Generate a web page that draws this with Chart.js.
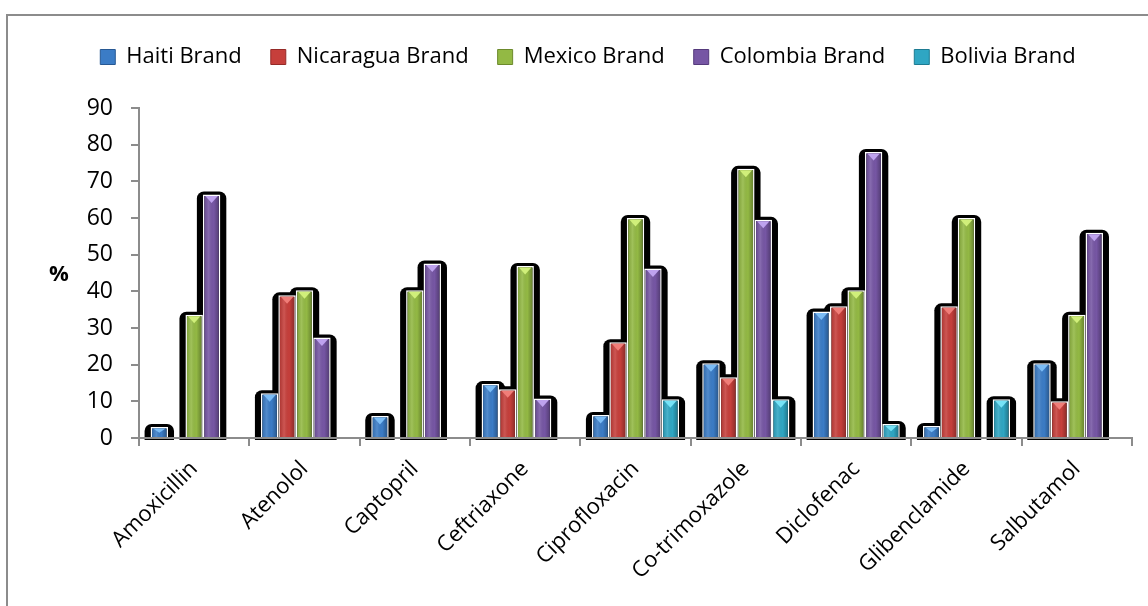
<!DOCTYPE html>
<html>
<head>
<meta charset="utf-8">
<script src="https://cdn.jsdelivr.net/npm/chart.js@4.4.1/dist/chart.umd.min.js"></script>
<style>
  html, body { margin: 0; padding: 0; background: #fff; }
  #marco { width: 1148px; height: 606px; }
</style>
</head>
<body>
<div id="marco"><canvas id="grafico"></canvas></div>
<script>
const medicamentos = ['Amoxicillin', 'Atenolol', 'Captopril', 'Ceftriaxone', 'Ciprofloxacin', 'Co-trimoxazole', 'Diclofenac', 'Glibenclamide', 'Salbutamol']
const marcas = ['Haiti Brand', 'Nicaragua Brand', 'Mexico Brand', 'Colombia Brand', 'Bolivia Brand']

const haiti = [3, 12.2, 6, 14.7, 6.3, 20.4, 34.5, 3.3, 20.4]
const nicaragua = [0, 38.9, 0, 13.3, 26.1, 16.6, 35.9, 35.9, 10]
const mexico = [33.6, 40.3, 40.3, 46.9, 60, 73.4, 40.3, 60, 33.6]
const colombia = [66.4, 27.4, 47.6, 10.8, 46.2, 59.5, 78, 0, 56]
const bolivia = [0, 0, 0, 0, 10.6, 10.6, 3.8, 10.6, 0]

const ticksY = [0, 10, 20, 30, 40, 50, 60, 70, 80, 90]

const colores = ['#3b7cc6', '#c63f3b', '#93b944', '#7656a4', '#2fa6c3']
const bordes = ['#275893', '#952a27', '#6c8a2c', '#553a7c', '#1d7b92']
const claros = ['#7bbcf5', '#f07d78', '#d0ef7a', '#bea2ee', '#76e3f7']

const gris = '#8c8c8c'
const fuente = "'Open Sans', 'Noto Sans', sans-serif"

const series = [haiti, nicaragua, mexico, colombia, bolivia]

// marco gris y fondo blanco
const fondo = {
  id: 'fondo',
  beforeDraw(chart) {
    const ctx = chart.ctx
    ctx.save()
    ctx.fillStyle = '#fff'
    ctx.fillRect(0, 0, chart.width, chart.height)
    ctx.strokeStyle = gris
    ctx.lineWidth = 2
    ctx.strokeRect(7, 15, chart.width + 20, chart.height + 20)
    ctx.restore()
  }
}

// mas espacio debajo de la leyenda
const espacioLeyenda = {
  id: 'espacioLeyenda',
  beforeLayout(chart) {
    const lg = chart.legend
    if (lg && !lg._ajustado) {
      const fit = lg.fit
      lg.fit = function () { fit.call(this); this.height += 30 }
      lg._ajustado = true
    }
  }
}

// sombra negra detras de las barras
const sombras = {
  id: 'sombras',
  beforeDatasetsDraw(chart) {
    const ctx = chart.ctx
    ctx.save()
    ctx.fillStyle = '#000'
    chart.data.datasets.forEach((ds, i) => {
      const meta = chart.getDatasetMeta(i)
      meta.data.forEach((bar, j) => {
        if (!ds.data[j]) return
        const p = bar.getProps(['x', 'y', 'base', 'width'], true)
        ctx.beginPath()
        ctx.roundRect(p.x - p.width / 2 - 6, p.y - 3, p.width + 12, p.base - p.y + 6, [7, 7, 0, 0])
        ctx.fill()
      })
    })
    ctx.restore()
  }
}

// relieve: degradado y triangulo claro arriba
const relieve = {
  id: 'relieve',
  afterDatasetsDraw(chart) {
    const ctx = chart.ctx
    ctx.save()
    chart.data.datasets.forEach((ds, i) => {
      const meta = chart.getDatasetMeta(i)
      meta.data.forEach((bar, j) => {
        if (!ds.data[j]) return
        const p = bar.getProps(['x', 'y', 'base', 'width'], true)
        const l = p.x - p.width / 2 + 1.5
        const r = p.x + p.width / 2 - 1.5
        const t = p.y + 1.5
        const g = ctx.createLinearGradient(l, 0, r, 0)
        g.addColorStop(0, 'rgba(0,0,0,0.12)')
        g.addColorStop(0.3, 'rgba(255,255,255,0.12)')
        g.addColorStop(0.65, 'rgba(0,0,0,0)')
        g.addColorStop(1, 'rgba(0,0,0,0.28)')
        ctx.fillStyle = g
        ctx.fillRect(l, t, r - l, p.base - t)
        const h = Math.min(7, (p.base - t) / 2)
        ctx.fillStyle = claros[i]
        ctx.beginPath()
        ctx.moveTo(l + 1, t)
        ctx.lineTo(r - 1, t)
        ctx.lineTo(p.x, t + h)
        ctx.closePath()
        ctx.fill()
      })
    })
    // la linea del eje por encima de las sombras
    const area = chart.chartArea
    ctx.strokeStyle = gris
    ctx.lineWidth = 2
    ctx.beginPath()
    ctx.moveTo(area.left, area.bottom)
    ctx.lineTo(area.right, area.bottom)
    ctx.stroke()
    ctx.restore()
  }
}

// titulo "%" del eje y, horizontal
const porcentaje = {
  id: 'porcentaje',
  afterDraw(chart) {
    const ctx = chart.ctx
    const area = chart.chartArea
    ctx.save()
    ctx.font = 'bold 22px ' + fuente
    ctx.fillStyle = '#000'
    ctx.textAlign = 'center'
    ctx.textBaseline = 'middle'
    ctx.fillText('%', 59, (area.top + area.bottom) / 2 + 2)
    ctx.restore()
  }
}

const datasets = series.map((valores, i) => ({
  label: marcas[i],
  data: valores,
  backgroundColor: colores[i],
  borderColor: '#fff',
  borderWidth: 1.5,
  borderSkipped: 'start',
  categoryPercentage: 0.79,
  barPercentage: 1
}))

const config = {
  type: 'bar',
  data: { labels: medicamentos, datasets },
  options: {
    responsive: true,
    maintainAspectRatio: false,
    animation: false,
    layout: { padding: { top: 17, left: 44, right: 16, bottom: 0 } },
    plugins: {
      tooltip: { enabled: false },
      legend: {
        position: 'top',
        labels: {
          color: '#000',
          font: { family: fuente, size: 22 },
          boxWidth: 15,
          boxHeight: 15,
          padding: 29,
          generateLabels(chart) {
            const items = Chart.defaults.plugins.legend.labels.generateLabels(chart)
            items.forEach((it, i) => { it.strokeStyle = bordes[i]; it.lineWidth = 1 })
            return items
          }
        }
      }
    },
    scales: {
      x: {
        afterFit(s) { s.height = 168 },
        grid: { drawOnChartArea: false, tickLength: 8, color: gris, lineWidth: 2, offset: true },
        border: { color: gris, width: 2 },
        ticks: { color: '#000', font: { family: fuente, size: 22 }, minRotation: 45, maxRotation: 45, padding: 10 }
      },
      y: {
        min: 0,
        max: 90,
        afterFit(s) { s.width = 95 },
        afterBuildTicks(s) { s.ticks = ticksY.map(v => ({ value: v })) },
        grid: { drawOnChartArea: false, tickLength: 8, color: gris, lineWidth: 2 },
        border: { color: gris, width: 2 },
        ticks: { color: '#000', font: { family: fuente, size: 23 }, padding: 18 }
      }
    }
  },
  plugins: [fondo, espacioLeyenda, sombras, relieve, porcentaje]
}

const grafico = document.querySelector('#grafico')
new Chart(grafico, config)
</script>
</body>
</html>
